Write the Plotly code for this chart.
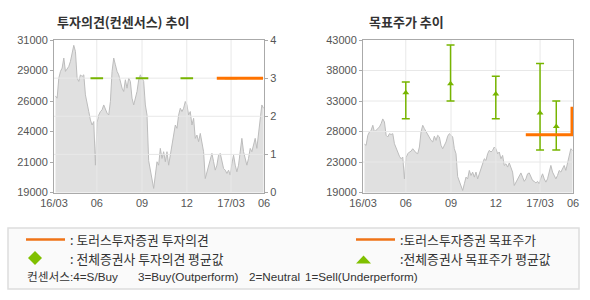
import plotly.graph_objects as go
import pandas as pd

# ---------------- data ----------------
price = [
    26600, 26420, 28000, 28530, 28790, 29580, 28530, 28790, 28920, 29320,
    29840, 30580, 30100, 28000, 27740, 28260, 28130, 28260, 26680, 25890,
    25370, 24710, 24310, 24580, 21150, 24500, 25100, 25370, 25500, 25890,
    25500, 25240, 25100, 26160, 28530, 29580, 29050, 28530, 28260, 27740,
    27210, 26950,
    27870, 27210, 28000, 27740, 26420, 25890, 26420, 26950, 27870, 28260,
    28000, 27740, 25890, 25100, 21500, 20800, 20100, 19320, 20370, 21420,
    21150, 22470, 21680, 22210, 21420, 22210, 21150, 21940, 22730, 23520,
    24310, 24050, 25100, 25630, 25370, 25630, 26160, 25890, 25100, 25370,
    24310, 24840,
    23260, 23520, 23000, 23650, 22730, 22210, 20100, 20630, 21150, 21680,
    22080, 21420, 20760, 21150, 21940, 22080, 21420, 20890, 20760, 20500,
    20760, 20370, 21280, 21940, 21150, 20630, 21150, 22470, 23260, 22210,
    21680, 21150, 21680, 22470, 22210, 22730, 23260, 22470, 23790, 25100,
    25890, 25630,
]
price_start = "2016-03-09"
price_end = "2017-05-06"

# Consensus opinion (all brokers average) and house opinion
cons_dates = ["2016-06-01", "2016-09-01", "2016-12-01", "2017-03-01"]
cons_opinion = [3, 3, 3, 3]
house_op_dates = ["2017-01-31", "2017-05-05"]
house_opinion = [3, 3]

# Target price: all-broker avg / max / min, house target
tp_dates = ["2016-06-01", "2016-08-31", "2016-12-01", "2017-03-01", "2017-04-03"]
tp_avg = [34700, 36100, 34500, 31500, 29400]
tp_max = [36400, 42200, 37300, 39300, 33400]
tp_min = [30600, 33400, 30600, 25700, 25700]
house_tp_dates = ["2017-01-31", "2017-05-05"]
house_tp = [28100, 32500]

# axis ticks
x_range = ["2016-03-06", "2017-05-07"]
x_tickvals = ["2016-03-06", "2016-06-01", "2016-09-01", "2016-12-01", "2017-03-01", "2017-05-07"]
x_ticktext = ["16/03", "06", "09", "12", "17/03", "06"]
x_grid = ["2016-06-01", "2016-09-01", "2016-12-01", "2017-03-01"]

y1_range = [19000, 31000]
y1_tickvals = [19000, 21400, 23800, 26200, 28600, 31000]
y1_ticktext = ["19000", "21000", "24000", "26000", "29000", "31000"]
y2_range = [0, 4]
y2_tickvals = [0, 1, 2, 3, 4]
y2_grid = [1, 2, 3]

y3_range = [19000, 43000]
y3_tickvals = [19000, 23800, 28600, 33400, 38200, 43000]
y3_ticktext = ["19000", "23000", "28000", "33000", "38000", "43000"]
y3_grid = [23800, 28600, 33400, 38200]

# ---------------- styles ----------------
W, H = 590, 300
GREEN = "#77b500"
ORANGE = "#ff7300"
LEG_ORANGE = "#ef7317"
FILL = "#e0e0e0"
AREA_LINE = "#bcbcbc"
GRID = "#e8e8e8"
AXIS = "#aaaaaa"
TICKFONT = dict(family="Liberation Sans, Arial, sans-serif", size=11, color="#555555")
KFONT = "Noto Sans CJK KR, sans-serif"

def px(x):
    return x / W

def py(y):
    return 1 - y / H

dates = pd.date_range(price_start, price_end, periods=len(price))

fig = go.Figure()

def grid_trace(xa, ya, xs, ys_range, hs, xs_range):
    gx, gy = [], []
    for d in xs:
        gx += [d, d, None]
        gy += [ys_range[0], ys_range[1], None]
    for v in hs:
        gx += [xs_range[0], xs_range[1], None]
        gy += [v, v, None]
    return go.Scatter(x=gx, y=gy, xaxis=xa, yaxis=ya, mode="lines",
                      line=dict(color=GRID, width=1), hoverinfo="skip", showlegend=False)

# ---- left chart ----
fig.add_trace(go.Scatter(x=dates, y=price, xaxis="x", yaxis="y", mode="lines",
                         fill="tozeroy", fillcolor=FILL,
                         line=dict(color=AREA_LINE, width=1), showlegend=False))
fig.add_trace(grid_trace("x", "y2", x_grid, y2_range, y2_grid, x_range))
fig.add_trace(go.Scatter(x=cons_dates, y=cons_opinion, xaxis="x", yaxis="y2", mode="markers",
                         marker=dict(symbol="line-ew", size=9, color=GREEN,
                                     line=dict(color=GREEN, width=2)), showlegend=False))
fig.add_trace(go.Scatter(x=house_op_dates, y=house_opinion, xaxis="x", yaxis="y2", mode="lines",
                         line=dict(color=ORANGE, width=3), showlegend=False))

# ---- right chart ----
fig.add_trace(go.Scatter(x=dates, y=price, xaxis="x2", yaxis="y3", mode="lines",
                         fill="tozeroy", fillcolor=FILL,
                         line=dict(color=AREA_LINE, width=1), showlegend=False))
fig.add_trace(grid_trace("x2", "y3", x_grid, y3_range, y3_grid, x_range))
err_plus = [mx - a for mx, a in zip(tp_max, tp_avg)]
err_minus = [a - mn for a, mn in zip(tp_avg, tp_min)]
fig.add_trace(go.Scatter(x=tp_dates, y=tp_avg, xaxis="x2", yaxis="y3", mode="markers",
                         marker=dict(symbol="triangle-up", size=6, color=GREEN),
                         error_y=dict(type="data", symmetric=False, array=err_plus,
                                      arrayminus=err_minus, color=GREEN, thickness=1.5, width=4),
                         showlegend=False))
fig.add_trace(go.Scatter(x=house_tp_dates, y=house_tp, xaxis="x2", yaxis="y3", mode="lines",
                         line=dict(color=ORANGE, width=3, shape="hv"), showlegend=False))

dom_y = [py(192.5), py(40)]
common_x = dict(type="date", range=x_range, tickmode="array", tickvals=x_tickvals,
                ticktext=x_ticktext, showgrid=False, showline=True, linecolor=AXIS,
                linewidth=1, mirror=True, ticks="", tickfont=TICKFONT, zeroline=False,
                automargin=False)
common_y = dict(showgrid=False, showline=True, linecolor=AXIS, linewidth=1, zeroline=False,
                ticks="outside", ticklen=3, tickcolor=AXIS, tickfont=TICKFONT,
                automargin=False)

fig.update_layout(
    template="none",
    width=W, height=H, margin=dict(l=0, r=0, t=0, b=0, pad=0, autoexpand=False),
    paper_bgcolor="white", plot_bgcolor="white", showlegend=False,
    xaxis=dict(domain=[px(54), px(264)], anchor="y", **common_x),
    yaxis=dict(domain=dom_y, anchor="x", range=y1_range, tickmode="array",
               tickvals=y1_tickvals, ticktext=y1_ticktext, **common_y),
    yaxis2=dict(overlaying="y", side="right", anchor="x", range=y2_range, tickmode="array",
                tickvals=y2_tickvals, ticktext=[str(v) for v in y2_tickvals], **common_y),
    xaxis2=dict(domain=[px(363), px(573)], anchor="y3", **common_x),
    yaxis3=dict(domain=dom_y, anchor="x2", range=y3_range, tickmode="array",
                tickvals=y3_tickvals, ticktext=y3_ticktext, mirror=True, **common_y),
)

# ---- titles ----
fig.add_annotation(x=px(55), y=py(21), xref="paper", yref="paper", xanchor="left", yanchor="middle",
                   text="<b>투자의견(컨센서스) 추이</b>", showarrow=False,
                   font=dict(family=KFONT, size=13, color="#333333"))
fig.add_annotation(x=px(367), y=py(21), xref="paper", yref="paper", xanchor="left", yanchor="middle",
                   text="<b>목표주가 추이</b>", showarrow=False,
                   font=dict(family=KFONT, size=13, color="#333333"))

# ---- legend box ----
shapes = [
    dict(type="rect", xref="paper", yref="paper", x0=px(8), x1=px(579), y0=py(289), y1=py(228),
         fillcolor="#fafafa", line=dict(color="#dddddd", width=1.5), layer="below"),
    dict(type="line", xref="paper", yref="paper", x0=px(26), x1=px(65), y0=py(239.5), y1=py(239.5),
         line=dict(color=LEG_ORANGE, width=2.5)),
    dict(type="line", xref="paper", yref="paper", x0=px(356), x1=px(395), y0=py(239.5), y1=py(239.5),
         line=dict(color=LEG_ORANGE, width=2.5)),
    dict(type="path", xref="paper", yref="paper",
         path=f"M {px(35)},{py(251)} L {px(42)},{py(258)} L {px(35)},{py(265)} L {px(28)},{py(258)} Z",
         fillcolor="#80c000", line=dict(width=0)),
    dict(type="path", xref="paper", yref="paper",
         path=f"M {px(363.5)},{py(255.5)} L {px(371)},{py(263.5)} L {px(356)},{py(263.5)} Z",
         fillcolor="#80c000", line=dict(width=0)),
]
fig.update_layout(shapes=shapes)

leg_font = dict(family=KFONT, size=12.8, color="#333333")
leg_texts = [
    (68, 239, ": 토러스투자증권 투자의견"),
    (68, 258, ": 전체증권사 투자의견 평균값"),
    (398, 239, ":토러스투자증권 목표주가"),
    (398, 258, ":전체증권사 목표주가 평균값"),
]
for x, y, t in leg_texts:
    fig.add_annotation(x=px(x), y=py(y), xref="paper", yref="paper", xanchor="left",
                       yanchor="middle", text=t, showarrow=False, font=leg_font)

cons_font = dict(family="Liberation Sans, " + KFONT, size=11.7, color="#333333")
cons_texts = [
    (25, "컨센서스:4=S/Buy"),
    (136, "3=Buy(Outperform)"),
    (247, "2=Neutral"),
    (303, "1=Sell(Underperform)"),
]
for x, t in cons_texts:
    fig.add_annotation(x=px(x), y=py(276), xref="paper", yref="paper", xanchor="left",
                       yanchor="middle", text=t, showarrow=False, font=cons_font)

fig.write_html("out.html")
